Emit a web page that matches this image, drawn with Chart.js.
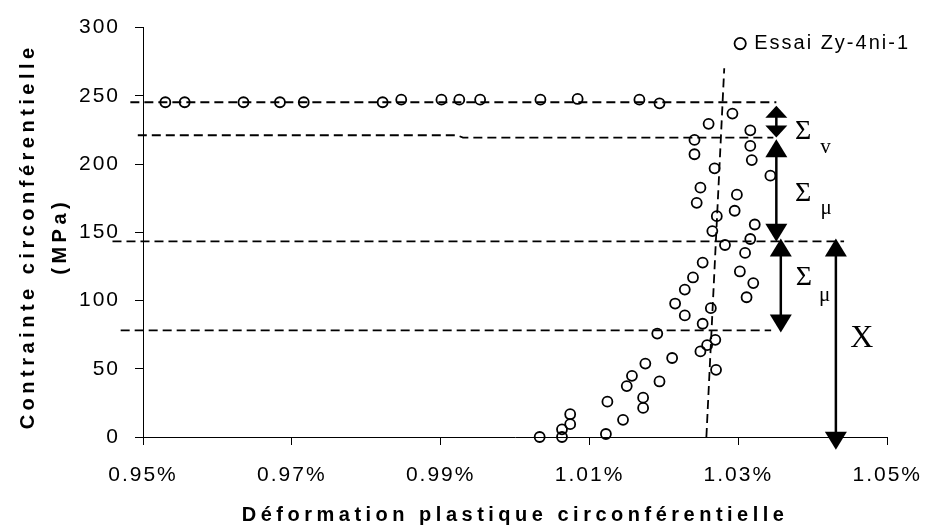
<!DOCTYPE html>
<html>
<head>
<meta charset="utf-8">
<script src="https://cdn.jsdelivr.net/npm/chart.js@4.4.1/dist/chart.umd.min.js"></script>
<style>
  html, body { margin: 0; padding: 0; background: #fff; }
  #wrap { width: 940px; height: 528px; }
</style>
</head>
<body>
<div id="wrap"><canvas id="chart" width="940" height="528"></canvas></div>
<script>
// measured points: plastic hoop strain (%) vs hoop stress (MPa)
const strainPct = [
  0.9530, 0.9556, 0.9635, 0.9684, 0.9716, 0.9822, 0.9847, 0.9901, 0.9925, 0.9953, 1.0034, 1.0084, 1.0167, 1.0194,
  1.0292, 1.0260, 1.0316, 1.0241, 1.0316, 1.0241, 1.0318, 1.0268, 1.0343, 1.0249,
  1.0298, 1.0244, 1.0295, 1.0271, 1.0322, 1.0265, 1.0316, 1.0282, 1.0309, 1.0252,
  1.0302, 1.0239, 1.0320, 1.0228, 1.0311, 1.0215, 1.0263, 1.0228, 1.0252, 1.0191,
  1.0269, 1.0258, 1.0249, 1.0211, 1.0175, 1.0270, 1.0157, 1.0194, 1.0150, 1.0172,
  1.0124, 1.0172, 1.0074, 1.0145, 1.0074, 1.0063, 1.0122, 1.0033, 1.0063
];
const stressMPa = [
  245.3, 245.3, 245.3, 245.3, 245.3, 245.3, 247.2, 247.2, 247.2, 247.2, 247.2, 247.7, 247.2, 244.5,
  237.0, 229.5, 224.7, 217.7, 213.3, 207.2, 202.9, 196.9, 191.5, 182.7,
  177.6, 171.6, 165.8, 161.8, 155.7, 150.9, 145.1, 140.7, 134.9, 127.8,
  121.3, 116.9, 112.8, 108.0, 102.4, 97.8, 94.4, 89.1, 83.0, 75.8,
  71.2, 67.3, 62.7, 57.9, 53.8, 49.2, 44.8, 40.7, 37.3, 28.8,
  25.9, 21.3, 16.7, 12.6, 9.4, 5.6, 2.2, 0, 0
];

// dashed guide levels (they start a bit left of the y axis)
const guideStrain = [[0.9483, 1.0351], [0.9493, 0.9922, 0.9930, 1.0347], [0.9459, 1.0442], [0.9470, 1.0344]];
const guideStress = [[245.3, 245.3], [221.1, 221.1, 219.4, 219.4], [143.3, 143.3], [78.2, 78.2]];
// near vertical dashed line
const trendStrain = [1.0257, 1.0281];
const trendStress = [0, 270.2];

// double arrows: x, top tip, bottom tip
const arrowStrain = [1.0351, 1.0351, 1.0357, 1.0431];
const arrowTop = [242.8, 218.1, 145.5, 145.5];
const arrowBottom = [219.4, 143.1, 76.5, -9.4];

// Sigma / X notes
const noteText = ['Σ', 'v', 'Σ', 'μ', 'Σ', 'μ', 'X'];
const noteStrain = [1.0387, 1.0417, 1.0387, 1.0418, 1.0388, 1.0416, 1.0466];
const noteStress = [223.7, 212.1, 178.2, 167.8, 116.9, 103.9, 72.3];

const xTicks = [0.95, 0.97, 0.99, 1.01, 1.03, 1.05];
const xTitle = 'Déformation plastique circonférentielle';
const yTitle = ['Contrainte circonférentielle', '(MPa)'];
const seriesName = 'Essai Zy-4ni-1';

const SANS = '"Liberation Sans", Arial, sans-serif';
const SERIF = '"Liberation Serif", "Times New Roman", serif';

Chart.defaults.font.family = SANS;
Chart.defaults.color = '#000';

function head(ctx, px, tip, dir, len) {
  // dir 1 = pointing up, -1 = pointing down
  ctx.beginPath();
  ctx.moveTo(px, tip);
  ctx.lineTo(px - 11, tip + len * dir);
  ctx.lineTo(px + 11, tip + len * dir);
  ctx.closePath();
  ctx.fill();
}

const extras = {
  id: 'extras',
  beforeLayout(chart) { chart.ctx.letterSpacing = '2px'; },
  afterLayout(chart) {
    // legend box is pushed down into the plot, top right like the original
    const lg = chart.legend;
    if (lg) { lg.top += 23; lg.bottom += 40; lg.left += 16; lg.right += 16; }
  },
  beforeDraw(chart) { chart.ctx.letterSpacing = '2px'; },
  afterDatasetsDraw(chart) {
    const { ctx, scales: { x, y } } = chart;
    ctx.save();
    ctx.fillStyle = '#000';
    ctx.strokeStyle = '#000';
    ctx.lineWidth = 2.5;
    arrowStrain.forEach((s, i) => {
      const px = x.getPixelForValue(s);
      const top = y.getPixelForValue(arrowTop[i]);
      const bot = y.getPixelForValue(arrowBottom[i]);
      const len = Math.min(18, (bot - top) * 0.38);
      ctx.beginPath();
      ctx.moveTo(px, top + len - 2);
      ctx.lineTo(px, bot - len + 2);
      ctx.stroke();
      head(ctx, px, top, 1, len);
      head(ctx, px, bot, -1, len);
    });
    ctx.letterSpacing = '0px';
    ctx.textAlign = 'center';
    ctx.textBaseline = 'middle';
    noteText.forEach((t, i) => {
      const size = t === 'Σ' ? 28 : (t === 'X' ? 32 : 21);
      ctx.font = size + 'px ' + SERIF;
      ctx.fillText(t, x.getPixelForValue(noteStrain[i]), y.getPixelForValue(noteStress[i]));
    });
    ctx.restore();
  },
  afterDraw(chart) {
    const { ctx, chartArea: ca } = chart;
    ctx.save();
    ctx.letterSpacing = '4.5px';
    ctx.font = 'bold 20px ' + SANS;
    ctx.fillStyle = '#000';
    ctx.textAlign = 'center';
    ctx.textBaseline = 'middle';
    ctx.fillText(xTitle, (ca.left + ca.right) / 2, chart.height - 13);
    ctx.translate(28, (ca.top + ca.bottom) / 2 + 4);
    ctx.rotate(-Math.PI / 2);
    ctx.fillText(yTitle[0], 0, 0);
    ctx.fillText(yTitle[1], 0, 32);
    ctx.restore();
  }
};

const guideSets = guideStrain.map((xs, i) => ({
  label: 'guide' + i,
  data: xs.map((v, j) => ({ x: v, y: guideStress[i][j] })),
  showLine: true,
  borderColor: '#000',
  borderWidth: 1.8,
  borderDash: [9, 5],
  pointRadius: 0,
  clip: false
}));

new Chart(document.getElementById('chart'), {
  type: 'scatter',
  data: {
    datasets: [
      {
        label: seriesName,
        data: strainPct.map((v, i) => ({ x: v, y: stressMPa[i] })),
        pointStyle: 'circle',
        pointRadius: 5,
        borderWidth: 1.8,
        borderColor: '#000',
        backgroundColor: 'rgba(0,0,0,0)',
        clip: false
      },
      ...guideSets,
      {
        label: 'trend',
        data: trendStrain.map((v, i) => ({ x: v, y: trendStress[i] })),
        showLine: true,
        borderColor: '#000',
        borderWidth: 1.8,
        borderDash: [9, 5],
        pointRadius: 0,
        clip: false
      }
    ]
  },
  options: {
    responsive: false,
    animation: false,
    events: [],
    layout: { padding: { top: 0, right: 39, bottom: 0, left: 0 } },
    plugins: {
      tooltip: { enabled: false },
      legend: {
        position: 'top',
        align: 'end',
        maxHeight: 24,
        labels: {
          filter: item => item.datasetIndex === 0,
          usePointStyle: true,
          boxWidth: 8,
          boxHeight: 8,
          padding: 7,
          color: '#000',
          font: { size: 20 }
        }
      }
    },
    scales: {
      x: {
        type: 'linear',
        min: xTicks[0],
        max: xTicks[xTicks.length - 1],
        afterBuildTicks: s => { s.ticks = xTicks.map(v => ({ value: v })); },
        ticks: {
          callback: v => v.toFixed(2) + '%',
          color: '#000',
          font: { size: 21 },
          padding: 18,
          maxRotation: 0,
          autoSkip: false
        },
        grid: { drawOnChartArea: false, tickLength: 8, color: '#000' },
        border: { color: '#000' },
        afterFit: s => { s.height = 91; }
      },
      y: {
        min: 0,
        max: 300,
        ticks: { stepSize: 50, color: '#000', font: { size: 21 }, padding: 15 },
        grid: { drawOnChartArea: false, tickLength: 8, color: '#000' },
        border: { color: '#000' },
        afterFit: s => { s.width = 143; }
      }
    }
  },
  plugins: [extras]
});
</script>
</body>
</html>
